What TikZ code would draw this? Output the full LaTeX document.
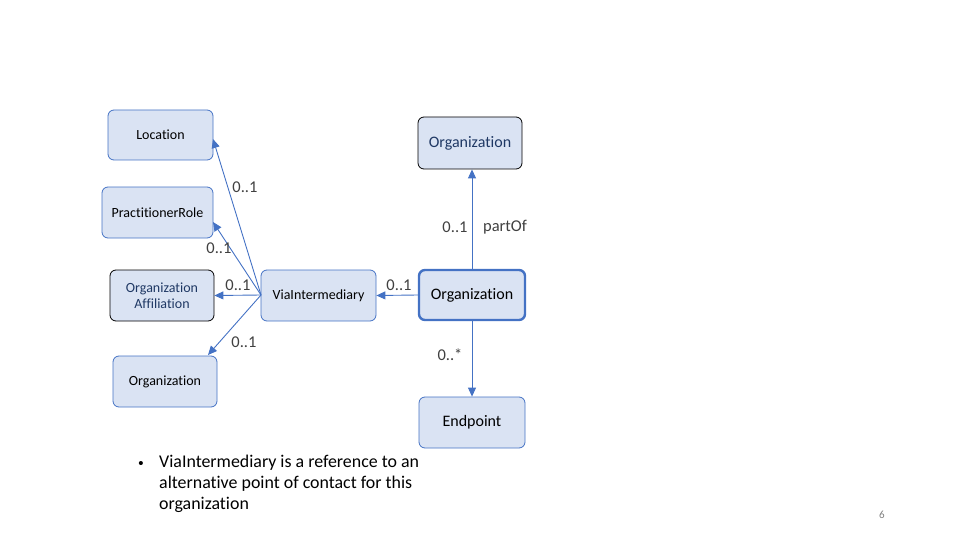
\documentclass[tikz,border=0pt]{standalone}
\usepackage{fontspec}
\setmainfont[Ligatures=NoCommon]{Carlito}
\newfontfamily\bulfont{Liberation Sans}
\usetikzlibrary{arrows.meta}
\definecolor{boxfill}{HTML}{DAE3F3}
\definecolor{boxline}{HTML}{4472C4}
\definecolor{navy}{HTML}{1F3864}
\definecolor{lbl}{HTML}{404040}
\tikzset{
  box/.style={draw=boxline, fill=boxfill, rounded corners=6pt, line width=0.8pt, align=center, font=\fontsize{14}{16.5}\selectfont, inner sep=0pt},
  bigtext/.style={font=\fontsize{16}{18}\selectfont},
  blackbox/.style={box, draw=black},
  mainbox/.style={box, line width=2.4pt},
  conn/.style={draw=boxline, line width=0.9pt, -{Triangle[length=9pt,width=8pt]}},
  lab/.style={text=lbl, font=\fontsize{16.5}{18}\selectfont, inner sep=0pt},
}
\begin{document}
\begin{tikzpicture}[x=1pt,y=-1pt]
\useasboundingbox (0,0) rectangle (960,540);
\node[box, minimum width=105pt, minimum height=50pt] (loc) at (160.5,135) {Location};
\node[box, minimum width=111pt, minimum height=51pt] (pr) at (157.5,212.5) {PractitionerRole};
\node[blackbox, minimum width=104pt, minimum height=51pt, text=navy] (oa) at (162,295.5) {Organization\\Affiliation};
\node[box, minimum width=104pt, minimum height=51pt] (orgl) at (165,381.5) {Organization};
\node[box, minimum width=115pt, minimum height=51pt] (via) at (318.5,295.5) {ViaIntermediary};
\node[blackbox, bigtext, minimum width=104pt, minimum height=52pt, text=navy] (orgt) at (470,143) {Organization};
\node[mainbox, bigtext, minimum width=106pt, minimum height=50pt] (org) at (472,295) {Organization};
\node[box, bigtext, minimum width=106pt, minimum height=51pt] (ep) at (472,422.5) {Endpoint};
\coordinate (v) at (261,295);
\draw[conn] (v) -- (213,139);
\draw[conn] (v) -- (213,222);
\draw[conn] (v) -- (oa.east);
\draw[conn] (v) -- (208,355);
\draw[conn] (org.west) -- (via.east);
\draw[conn] (472,269) -- (orgt.south -| 472,0);
\draw[conn] (org.south) -- (ep.north);
\node[lab] (l1) at (245,187) {0..1};
\node[lab] (l2) at (219,248) {0..1};
\node[lab] (l3) at (238,285) {0..1};
\node[lab] (l4) at (244,342) {0..1};
\node[lab] (l5) at (399,285) {0..1};
\node[lab] (l6) at (455,227) {0..1};
\node[lab] (l7) at (505,227) {partOf};
\node[lab] (l8) at (450,355) {0..*};
\node[anchor=north west, align=left, font=\fontsize{17.9}{20.8}\selectfont, inner sep=0pt] (txt) at (159,455)
 {ViaIntermediary is a reference to an\\alternative point of contact for this\\organization};
\node[font=\bulfont\fontsize{15}{18}\selectfont, inner sep=0pt] (bul) at (141,465) {•};
\node[text=gray, font=\fontsize{11}{13}\selectfont, inner sep=0pt] (pg) at (882,515) {6};
\end{tikzpicture}
\end{document}
